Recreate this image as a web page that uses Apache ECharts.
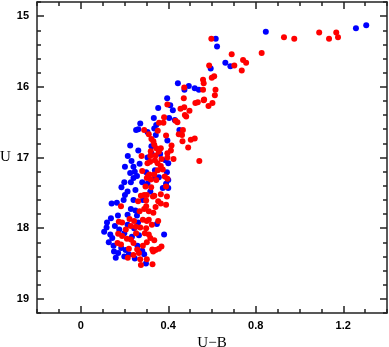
<!DOCTYPE html>
<html>
<head>
<meta charset="utf-8">
<script src="https://cdn.jsdelivr.net/npm/echarts@6/dist/echarts.min.js"></script>
<style>
  html, body { margin: 0; padding: 0; background: #fff; }
  #main { width: 389px; height: 347px; }
</style>
</head>
<body>
<div id="main"></div>
<script>
// U-B colour vs U magnitude, two samples
var blueStars = [
  [0.846, 15.22], [1.258, 15.17], [1.305, 15.13],
  [0.617, 15.32], [0.623, 15.43], [0.661, 15.66], [0.684, 15.71], [0.594, 15.74],
  [0.444, 15.95], [0.494, 15.99], [0.474, 16.04], [0.521, 16.02], [0.540, 16.04], [0.395, 16.16],
  [0.354, 16.30], [0.409, 16.26], [0.421, 16.33], [0.334, 16.44], [0.404, 16.44],
  [0.430, 16.47], [0.336, 16.59], [0.451, 16.61], [0.343, 16.68], [0.396, 16.76], [0.363, 16.95],
  [0.387, 17.04], [0.400, 17.08], [0.394, 17.21], [0.357, 17.28], [0.390, 17.37],
  [0.400, 17.32], [0.375, 17.43], [0.400, 17.43], [0.348, 17.94], [0.381, 18.09],
  [0.345, 16.54], [0.253, 16.61], [0.263, 16.60], [0.305, 16.64], [0.226, 16.83], [0.323, 16.84],
  [0.263, 16.90], [0.323, 16.94], [0.305, 17.00], [0.269, 17.09], [0.202, 17.13], [0.241, 17.13],
  [0.247, 17.20], [0.299, 17.21], [0.339, 17.18], [0.241, 17.29], [0.257, 17.26], [0.199, 17.35],
  [0.229, 17.35], [0.281, 17.35], [0.339, 17.29],
  [0.305, 17.37], [0.214, 17.48], [0.202, 17.53], [0.250, 17.46], [0.241, 17.60], [0.284, 17.60],
  [0.141, 17.65], [0.165, 17.64], [0.229, 17.73], [0.250, 17.75], [0.214, 17.81], [0.257, 17.82],
  [0.120, 17.92], [0.156, 17.97], [0.214, 17.95], [0.244, 18.00], [0.107, 18.05], [0.135, 18.09],
  [0.144, 18.14], [0.199, 18.07], [0.266, 18.10], [0.150, 18.25], [0.205, 18.31], [0.259, 18.25],
  [0.171, 18.35], [0.199, 18.40], [0.220, 18.37], [0.290, 18.37], [0.247, 18.43], [0.298, 18.50],
  [0.272, 16.52], [0.215, 16.98], [0.186, 17.42], [0.232, 17.05], [0.170, 17.82], [0.128, 18.20],
  [0.185, 18.28], [0.234, 18.12], [0.262, 17.92], [0.318, 17.48], [0.281, 18.32], [0.160, 18.42],
  [0.118, 17.99], [0.138, 17.86], [0.176, 18.02], [0.152, 18.33], [0.196, 17.60], [0.226, 17.22]
];

var redStars = [
  [0.827, 15.52], [0.929, 15.30], [0.976, 15.32], [1.090, 15.23], [1.135, 15.32], [1.168, 15.23], [1.176, 15.30],
  [0.597, 15.32], [0.690, 15.54], [0.742, 15.62], [0.756, 15.66], [0.702, 15.70], [0.736, 15.77],
  [0.587, 15.70], [0.610, 15.85], [0.599, 15.87], [0.559, 15.90], [0.562, 15.95], [0.473, 16.01],
  [0.559, 16.04], [0.616, 16.04], [0.471, 16.16], [0.564, 16.18], [0.613, 16.12],
  [0.396, 16.25], [0.456, 16.31], [0.473, 16.29], [0.497, 16.34], [0.476, 16.40], [0.482, 16.42],
  [0.524, 16.23], [0.535, 16.22], [0.562, 16.19], [0.584, 16.27], [0.602, 16.23], [0.381, 16.43],
  [0.358, 16.51], [0.378, 16.51], [0.433, 16.48], [0.442, 16.50], [0.467, 16.61], [0.448, 16.67],
  [0.463, 16.68], [0.390, 16.69], [0.465, 16.77], [0.503, 16.75], [0.521, 16.73], [0.415, 16.83],
  [0.491, 16.86], [0.366, 16.87], [0.345, 16.87], [0.412, 16.90], [0.357, 16.92], [0.396, 16.94],
  [0.424, 17.02], [0.542, 17.05], [0.369, 17.02], [0.339, 17.04], [0.396, 17.00], [0.351, 17.08],
  [0.366, 17.12], [0.375, 17.17], [0.384, 17.27], [0.396, 17.30], [0.345, 17.32],
  [0.390, 17.41], [0.336, 17.54], [0.366, 17.52], [0.394, 17.55], [0.366, 17.65], [0.390, 17.67],
  [0.342, 17.70], [0.354, 17.90], [0.336, 18.17], [0.369, 18.26], [0.357, 18.29], [0.342, 18.31],
  [0.331, 18.33], [0.328, 18.51],
  [0.290, 16.61], [0.311, 16.67], [0.323, 16.74], [0.332, 16.77], [0.336, 16.82], [0.320, 16.91],
  [0.278, 16.98], [0.342, 16.97], [0.305, 17.08], [0.317, 17.06], [0.281, 17.19], [0.314, 17.24],
  [0.308, 17.26], [0.336, 17.24], [0.302, 17.29], [0.320, 17.31],
  [0.296, 17.41], [0.275, 17.54], [0.290, 17.53], [0.302, 17.53], [0.299, 17.61], [0.330, 17.55],
  [0.184, 17.69], [0.269, 17.76], [0.290, 17.73], [0.299, 17.69], [0.311, 17.76], [0.332, 17.78],
  [0.223, 17.87], [0.244, 17.90], [0.284, 17.88], [0.302, 17.90], [0.311, 17.88], [0.174, 17.91],
  [0.189, 17.92], [0.229, 17.97], [0.272, 17.99], [0.299, 18.00], [0.171, 18.08], [0.189, 18.11],
  [0.211, 18.15], [0.229, 18.16], [0.253, 18.07], [0.293, 18.07], [0.311, 18.09], [0.168, 18.21],
  [0.184, 18.23], [0.220, 18.29], [0.241, 18.21], [0.284, 18.25], [0.302, 18.20], [0.327, 18.30],
  [0.241, 18.38], [0.266, 18.35], [0.272, 18.44], [0.302, 18.44], [0.275, 18.52],
  [0.352, 16.62], [0.318, 16.98], [0.352, 17.18], [0.322, 17.42], [0.354, 17.62], [0.325, 17.95],
  [0.262, 17.62], [0.252, 17.98], [0.206, 18.02], [0.318, 18.14], [0.258, 18.30], [0.215, 18.42]
];

// ticks
var xMajor = [0, 0.4, 0.8, 1.2];
var xMinor = [-0.2, -0.1, 0, 0.1, 0.2, 0.3, 0.4, 0.5, 0.6, 0.7, 0.8, 0.9, 1.0, 1.1, 1.2, 1.3, 1.4];
var yMajor = [15, 16, 17, 18, 19];
var yMinor = [14.8, 15, 15.2, 15.4, 15.6, 15.8, 16, 16.2, 16.4, 16.6, 16.8, 17, 17.2, 17.4, 17.6, 17.8,
  18, 18.2, 18.4, 18.6, 18.8, 19, 19.2];

var lineCol = "#222";
var tickFont = { fontFamily: "Liberation Sans", fontSize: 11, fontWeight: "bold", color: "#000" };
var nameFont = { fontFamily: "Liberation Serif", fontSize: 15, color: "#000" };

function xAx(pos, ticks, len, withLabels, showLine) {
  return {
    type: "value", position: pos, min: -0.2, max: 1.4,
    splitLine: { show: false },
    axisLine: { show: showLine, onZero: false, lineStyle: { color: lineCol, width: 1.5 } },
    axisTick: { show: true, inside: true, length: len, customValues: ticks,
      lineStyle: { color: lineCol, width: 1.5 } },
    axisLabel: withLabels
      ? Object.assign({ show: true, margin: 7, customValues: xMajor,
          formatter: function (v) { return v === 0 ? "0" : v.toFixed(1); } }, tickFont)
      : { show: false }
  };
}
function yAx(pos, ticks, len, withLabels, showLine) {
  return {
    type: "value", position: pos, min: 14.8, max: 19.2, inverse: true,
    splitLine: { show: false },
    axisLine: { show: showLine, onZero: false, lineStyle: { color: lineCol, width: 1.5 } },
    axisTick: { show: true, inside: true, length: len, customValues: ticks,
      lineStyle: { color: lineCol, width: 1.5 } },
    axisLabel: withLabels
      ? Object.assign({ show: true, margin: 8, customValues: yMajor }, tickFont)
      : { show: false }
  };
}

var xAxes = [
  xAx("bottom", xMajor, 7, true, true),
  xAx("bottom", xMinor, 4, false, false),
  xAx("top", xMajor, 7, false, true),
  xAx("top", xMinor, 4, false, false)
];
xAxes[0].name = "U\u2212B";
xAxes[0].nameLocation = "middle";
xAxes[0].nameGap = 21;
xAxes[0].nameTextStyle = nameFont;

var yAxes = [
  yAx("left", yMajor, 7, true, true),
  yAx("left", yMinor, 4, false, false),
  yAx("right", yMajor, 7, false, true),
  yAx("right", yMinor, 4, false, false)
];
yAxes[0].name = "U";
yAxes[0].nameLocation = "middle";
yAxes[0].nameRotate = 0;
yAxes[0].nameGap = 24;
yAxes[0].nameTextStyle = nameFont;

var chart = echarts.init(document.getElementById("main"));
chart.setOption({
  animation: false,
  grid: { left: 37, right: 2, top: 2, bottom: 34, containLabel: false, outerBoundsMode: "none" },
  xAxis: xAxes,
  yAxis: yAxes,
  series: [
    { type: "scatter", data: blueStars, symbolSize: 6, itemStyle: { color: "#0000ff", opacity: 1 } },
    { type: "scatter", data: redStars, symbolSize: 6, itemStyle: { color: "#ff0000", opacity: 1 } }
  ]
});
</script>
</body>
</html>
